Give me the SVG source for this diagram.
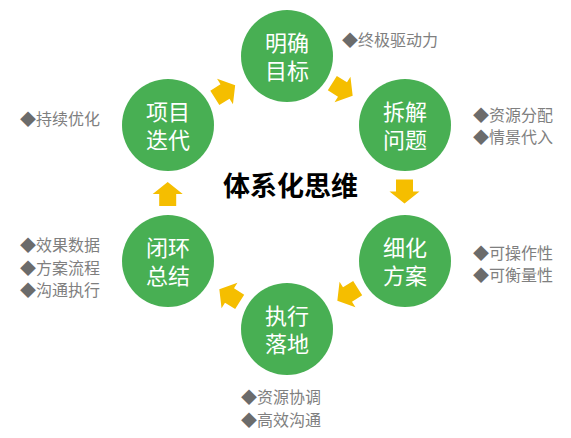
<svg xmlns="http://www.w3.org/2000/svg" width="571" height="438" viewBox="0 0 571 438">
<defs>
<style>
.node{fill:#48AF53;}
.nt{font-family:"Noto Sans CJK SC","Noto Sans",sans-serif;font-size:22px;fill:#ffffff;text-anchor:middle;}
.lbl{font-family:"Noto Sans CJK SC","Noto Sans",sans-serif;font-size:16px;fill:#7F7F7F;}
.dm{fill:#6B6B6B;}
.title{font-family:"Noto Sans CJK SC","Noto Sans",sans-serif;font-size:27px;font-weight:bold;fill:#000000;text-anchor:middle;}
.arr{fill:#F5BE00;}
</style>
<path id="arrow" d="M-12,-8.5 L0,-8.5 L0,-15 L12,0 L0,15 L0,8.5 L-12,8.5 Z"/>
</defs>
<rect width="571" height="438" fill="#ffffff"/>
<g id="connectors">
<use href="#arrow" class="arr" transform="translate(225,91.5) rotate(-32)"/>
<use href="#arrow" class="arr" transform="translate(342.5,89.5) rotate(32)"/>
<use href="#arrow" class="arr" transform="translate(404.5,191.5) rotate(90)"/>
<use href="#arrow" class="arr" transform="translate(347.5,294.5) rotate(148)"/>
<use href="#arrow" class="arr" transform="translate(229.5,295.5) rotate(212)"/>
<use href="#arrow" class="arr" transform="translate(167.7,194) rotate(-90)"/>
</g>
<g id="node-mingque">
<circle class="node" cx="287" cy="56" r="46"/>
<text class="nt" x="287" y="50.5">明确</text>
<text class="nt" x="287" y="78.5">目标</text>
</g>
<g id="node-chaijie">
<circle class="node" cx="405" cy="125" r="46"/>
<text class="nt" x="405" y="119.5">拆解</text>
<text class="nt" x="405" y="147.5">问题</text>
</g>
<g id="node-xihua">
<circle class="node" cx="405" cy="261" r="46"/>
<text class="nt" x="405" y="255.5">细化</text>
<text class="nt" x="405" y="283.5">方案</text>
</g>
<g id="node-zhixing">
<circle class="node" cx="287" cy="329" r="46"/>
<text class="nt" x="287" y="323.5">执行</text>
<text class="nt" x="287" y="351.5">落地</text>
</g>
<g id="node-bihuan">
<circle class="node" cx="168" cy="261" r="46"/>
<text class="nt" x="168" y="255.5">闭环</text>
<text class="nt" x="168" y="283.5">总结</text>
</g>
<g id="node-xiangmu">
<circle class="node" cx="168" cy="125" r="46"/>
<text class="nt" x="168" y="119.5">项目</text>
<text class="nt" x="168" y="147.5">迭代</text>
</g>
<g id="title">
<text class="title" x="290.5" y="195.5">体系化思维</text>
</g>
<g id="labels">
<text class="lbl" x="342" y="46"><tspan class="dm">◆</tspan>终极驱动力</text>
<text class="lbl" x="20" y="125"><tspan class="dm">◆</tspan>持续优化</text>
<text class="lbl" x="473" y="121"><tspan class="dm">◆</tspan>资源分配</text>
<text class="lbl" x="473" y="143"><tspan class="dm">◆</tspan>情景代入</text>
<text class="lbl" x="20" y="251"><tspan class="dm">◆</tspan>效果数据</text>
<text class="lbl" x="20" y="273.5"><tspan class="dm">◆</tspan>方案流程</text>
<text class="lbl" x="20" y="296"><tspan class="dm">◆</tspan>沟通执行</text>
<text class="lbl" x="473" y="259"><tspan class="dm">◆</tspan>可操作性</text>
<text class="lbl" x="473" y="281"><tspan class="dm">◆</tspan>可衡量性</text>
<text class="lbl" x="241" y="403"><tspan class="dm">◆</tspan>资源协调</text>
<text class="lbl" x="241" y="426"><tspan class="dm">◆</tspan>高效沟通</text>
</g>
</svg>
